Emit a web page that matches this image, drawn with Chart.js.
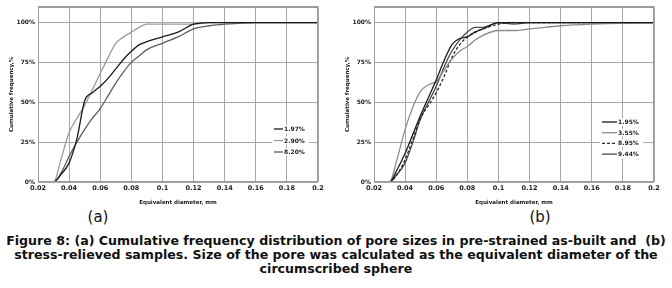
<!DOCTYPE html>
<html>
<head>
<meta charset="utf-8">
<script src="https://cdn.jsdelivr.net/npm/chart.js@4/dist/chart.umd.min.js"></script>
<style>
  body { margin: 0; background: #fff; width: 672px; height: 288px; position: relative; overflow: hidden; }
  .panel { position: absolute; top: 0; width: 336px; height: 206px; }
  .sub { position: absolute; top: 208px; font: 15px "DejaVu Sans", sans-serif; color: #111; transform: translateX(-50%); }
  #caption { position: absolute; left: 0; top: 234px; width: 672px; text-align: center;
             font: bold 12.6px "DejaVu Sans", sans-serif; line-height: 14px; color: #111; }
</style>
</head>
<body>
<div class="panel" style="left:0"><canvas id="chartA" width="336" height="206"></canvas></div>
<div class="panel" style="left:336px"><canvas id="chartB" width="336" height="206"></canvas></div>
<div class="sub" style="left:98px">(a)</div>
<div class="sub" style="left:540px">(b)</div>
<div id="caption">Figure 8: (a) Cumulative frequency distribution of pore sizes in pre-strained as-built and&nbsp; (b)<br>stress-relieved samples. Size of the pore was calculated as the equivalent diameter of the<br>circumscribed sphere</div>
<script>
// equivalent diameter, mm (shared x positions of the read-off points)
const diameters = [0.02, 0.03, 0.035, 0.04, 0.045, 0.05, 0.055, 0.06, 0.065, 0.07, 0.075, 0.08, 0.085, 0.09, 0.1, 0.11, 0.12, 0.13, 0.14, 0.16, 0.2];

// (a) pre-strained as-built
const labelsA = ['1.97%', '2.90%', '8.20%'];
const a197 = [0, 0, 5, 12, 27, 51, 56, 60, 65, 71, 77, 82, 86, 88, 91, 94, 99, 100, 100, 100, 100];
const a290 = [0, 0, 15, 31, 40, 48, 58, 68, 78, 87, 91, 94, 97, 99, 99, 99, 99, 100, 100, 100, 100];
const a820 = [0, 0, 6, 16, 25, 33, 40, 46, 54, 62, 69, 75, 79, 83, 87, 91, 96, 98, 99, 100, 100];

// (b) stress-relieved
const labelsB = ['1.95%', '3.55%', '8.95%', '9.44%'];
const b195 = [0, 0, 8, 18, 30, 42, 53, 64, 76, 86, 90, 91, 94, 96, 100, 100, 100, 100, 100, 100, 100];
const b355 = [0, 0, 15, 33, 47, 57, 61, 63, 70, 77, 82, 85, 89, 92, 95, 95, 96, 97, 98, 99, 100];
const b895 = [0, 0, 5, 14, 27, 40, 48, 56, 66, 78, 86, 91, 94, 96, 99, 100, 100, 100, 100, 100, 100];
const b944 = [0, 0, 5, 12, 25, 40, 50, 60, 72, 82, 89, 94, 97, 97, 100, 99, 100, 100, 100, 100, 100];

const xTicks = [0.02, 0.04, 0.06, 0.08, 0.1, 0.12, 0.14, 0.16, 0.18, 0.2];
const yTicks = [0, 25, 50, 75, 100];

function pts(values) {
  return diameters.map((d, i) => ({ x: d, y: values[i] }));
}

function line(label, values, color, dash) {
  return {
    label: label,
    data: pts(values),
    borderColor: color,
    borderWidth: 1.3,
    borderDash: dash || [],
    pointRadius: 0,
    fill: false,
    cubicInterpolationMode: 'monotone'
  };
}

// legend drawn inside the plot + plot frame
const innerLegend = {
  id: 'innerLegend',
  afterDatasetsDraw(chart, args, opts) {
    const ctx = chart.ctx;
    const area = chart.chartArea;
    ctx.save();
    ctx.strokeStyle = '#9a9a9a';
    ctx.lineWidth = 1;
    ctx.strokeRect(area.left + 0.5, area.top + 0.5, area.width - 1, area.height - 1);
    ctx.lineWidth = 2;
    ctx.beginPath();
    ctx.moveTo(area.left, area.top + 0.5);
    ctx.lineTo(area.right, area.top + 0.5);
    ctx.stroke();
    ctx.font = 'bold 6px "DejaVu Sans", sans-serif';
    ctx.textBaseline = 'middle';
    chart.data.datasets.forEach((ds, i) => {
      const y = opts.y + i * opts.gap;
      // white box behind the entry
      ctx.fillStyle = '#fff';
      ctx.fillRect(opts.x - 2, y - 4, opts.len + 28, 8);
      ctx.strokeStyle = ds.borderColor;
      ctx.lineWidth = 1.3;
      ctx.setLineDash(ds.borderDash || []);
      ctx.beginPath();
      ctx.moveTo(opts.x, y);
      ctx.lineTo(opts.x + opts.len, y);
      ctx.stroke();
      ctx.setLineDash([]);
      ctx.fillStyle = '#222';
      ctx.fillText(ds.label, opts.x + opts.len + 1, y + 0.5);
    });
    ctx.restore();
  }
};

function makeChart(id, datasets, legendPos) {
  return new Chart(document.getElementById(id), {
    type: 'line',
    data: { datasets: datasets },
    plugins: [innerLegend],
    options: {
      responsive: false,
      animation: false,
      layout: { padding: { top: 6, right: 18, left: 0, bottom: 0 } },
      plugins: {
        legend: { display: false },
        tooltip: { enabled: false },
        innerLegend: legendPos
      },
      scales: {
        x: {
          type: 'linear',
          min: 0.02,
          max: 0.2,
          afterBuildTicks: axis => { axis.ticks = xTicks.map(v => ({ value: v })); },
          afterFit: axis => { axis.height = 24; },
          ticks: {
            padding: 2,
            maxRotation: 0,
            color: '#222',
            font: { family: 'DejaVu Sans', size: 6.5, weight: 'bold' },
            callback: v => String(Math.round(v * 100) / 100)
          },
          grid: { color: '#a8a8a8', drawTicks: false },
          border: { display: false },
          title: {
            display: true,
            text: 'Equivalent diameter, mm',
            color: '#222',
            padding: { top: 3, bottom: 0 },
            font: { family: 'DejaVu Sans', size: 5.5, weight: 'bold' }
          }
        },
        y: {
          min: 0,
          max: 110,
          afterBuildTicks: axis => { axis.ticks = yTicks.map(v => ({ value: v })); },
          afterFit: axis => { axis.width = 38; },
          ticks: {
            padding: 3,
            color: '#222',
            font: { family: 'DejaVu Sans', size: 6, weight: 'bold' },
            callback: v => v + '%'
          },
          grid: { color: '#a8a8a8', drawTicks: false },
          border: { display: false },
          title: {
            display: true,
            text: 'Cumulative frequency,%',
            color: '#222',
            padding: { top: 8, bottom: 0 },
            font: { family: 'DejaVu Sans', size: 5.5, weight: 'bold' }
          }
        }
      }
    }
  });
}

makeChart('chartA', [
  line(labelsA[0], a197, '#1a1a1a'),
  line(labelsA[1], a290, '#9a9a9a'),
  line(labelsA[2], a820, '#5e5e5e')
], { x: 274, y: 129, gap: 11.5, len: 9 });

makeChart('chartB', [
  line(labelsB[0], b195, '#1a1a1a'),
  line(labelsB[1], b355, '#8c8c8c'),
  line(labelsB[2], b895, '#2a2a2a', [3, 2]),
  line(labelsB[3], b944, '#4a4a4a')
], { x: 266, y: 122, gap: 10.7, len: 15 });
</script>
</body>
</html>
